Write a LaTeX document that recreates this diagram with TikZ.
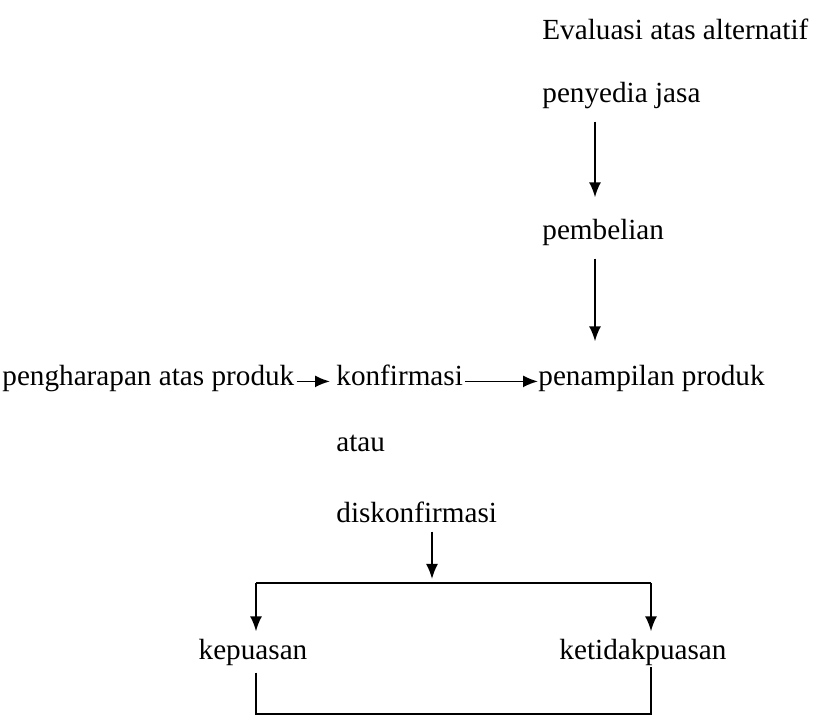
\documentclass[tikz,border=0pt]{standalone}
\usepackage{fontspec}
\setmainfont{Liberation Serif}
\usetikzlibrary{arrows.meta}

\tikzset{
  lbl/.style={inner sep=0pt, anchor=base west, font=\fontsize{14.6}{17}\selectfont},
  flow/.style={-{Latex[length=7.5pt,width=6pt]}, line width=0.9pt},
  link/.style={line width=0.9pt}
}

\begin{document}
\begin{tikzpicture}[x=0.5pt,y=-0.5pt]
  \useasboundingbox (0,0) rectangle (831,716);
  \node[lbl] (eval) at (542,40) {Evaluasi atas alternatif};
  \node[lbl] (jasa) at (542,103) {penyedia jasa};
  \node[lbl] (beli) at (542,240) {pembelian};
  \node[lbl] (harap) at (2,386) {pengharapan atas produk};
  \node[lbl] (konf) at (336,386) {konfirmasi};
  \node[lbl] (tampil) at (538,386) {penampilan produk};
  \node[lbl] (atau) at (336,452) {atau};
  \node[lbl] (diskonf) at (336,523) {diskonfirmasi};
  \node[lbl, anchor=base] (puas) at (253,660) {kepuasan};
  \node[lbl, anchor=base] (tpuas) at (643,660) {ketidakpuasan};
  % columns and joints
  \coordinate (colA) at (595,0);
  \coordinate (split) at (432,583);
  \coordinate (jL) at (256,583);
  \coordinate (jR) at (651,583);
  \coordinate (bL) at (256,714);
  \coordinate (bR) at (651,714);
 \draw[flow, shorten <=6pt, shorten >=11pt] (jasa.south -| colA) -- (beli.north -| colA);
 \draw[flow, shorten <=6pt, shorten >=12pt] (beli.south -| colA) -- (tampil.north -| colA);
 \draw[flow, shorten <=1pt, shorten >=3pt] (harap.mid east) -- (konf.mid west);
 \draw[flow, shorten <=1pt] (konf.mid east) -- (tampil.mid west);
 \draw[flow, shorten <=4pt, shorten >=2pt] (diskonf.south -| split) -- (split);
 \draw[link] (jL) -- (jR);
 \draw[flow, shorten >=4pt] (jL) -- (puas.north -| jL);
 \draw[flow, shorten >=4pt] (jR) -- (tpuas.north -| jR);
 \draw[link, shorten <=3pt] (puas.south -| bL) -- (bL) -- (bR) -- (tpuas.south -| bR);
\end{tikzpicture}
\end{document}
